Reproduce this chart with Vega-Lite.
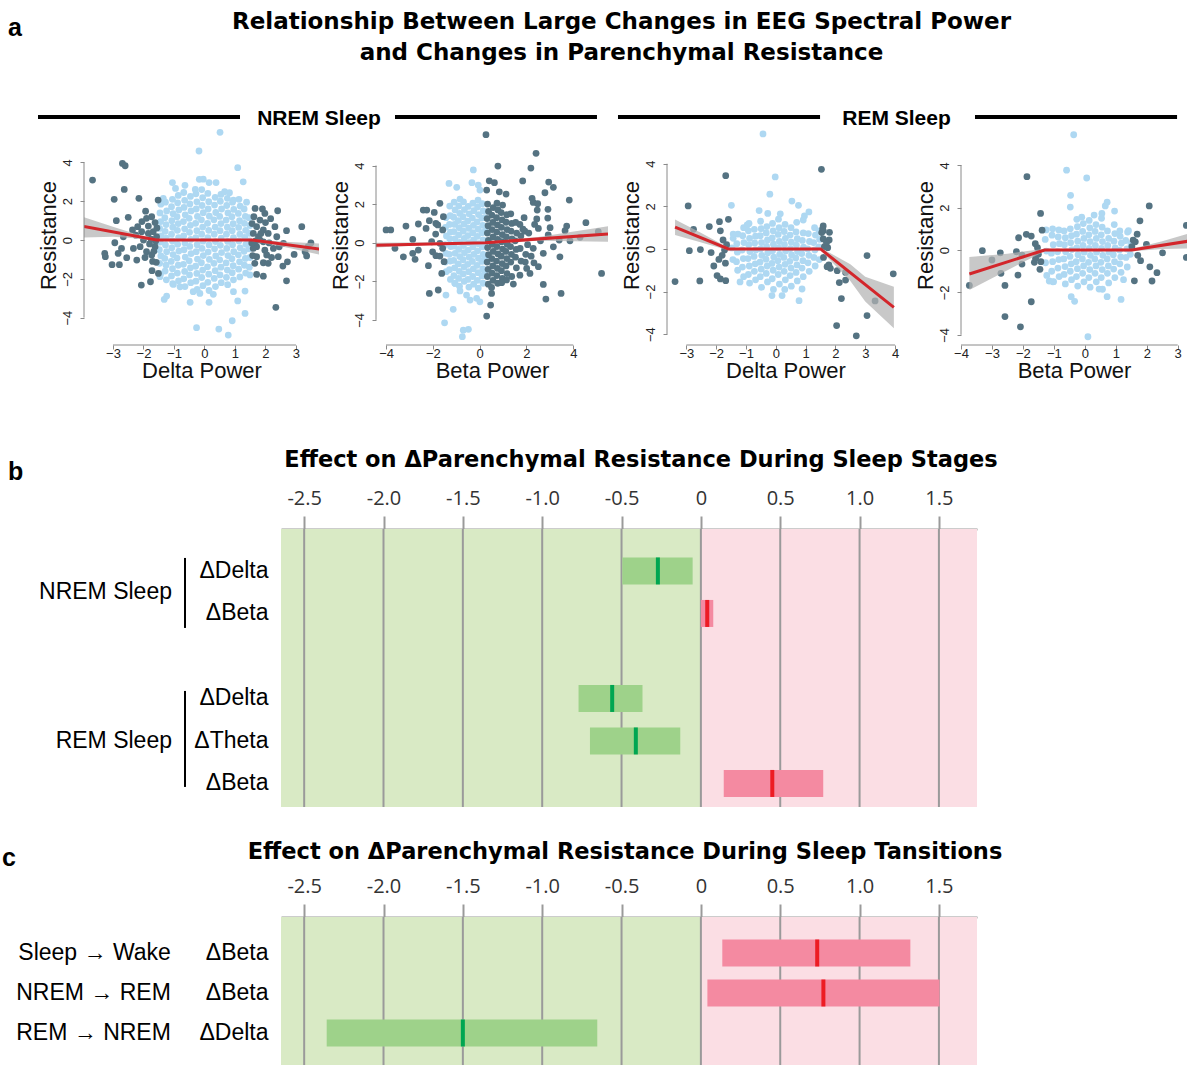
{
"$schema": "https://vega.github.io/schema/vega-lite/v6.json",
"background": "white",
"padding": {"left": 2, "top": 10, "right": 0, "bottom": 0},
"config": {
 "view": {"stroke": null},
 "axis": {"labelOverlap": false, "labelFlush": false, "grid": false},
 "axisBottom": {"domain": false, "tickSize": 4, "tickColor": "#8a8a8a", "labelFont": "Liberation Sans", "labelFontSize": 13, "labelColor": "#222222", "labelPadding": -1.5, "labelOverlap": false, "titleFont": "Liberation Sans", "titleFontSize": 22, "titleFontWeight": "normal", "titleColor": "#111111", "titlePadding": 0},
 "axisLeft": {"domain": false, "tickSize": 4, "tickColor": "#8a8a8a", "labelFont": "Liberation Sans", "labelFontSize": 13, "labelColor": "#222222", "labelAngle": -90, "labelAlign": "center", "labelBaseline": "bottom", "labelPadding": 5.5, "labelOverlap": false, "titleFont": "Liberation Sans", "titleFontSize": 22, "titleFontWeight": "normal", "titleColor": "#111111", "titlePadding": 1.5, "titleBaseline": "bottom"},
 "axisTop": {"domain": true, "domainColor": "#9a9a9a", "domainWidth": 2, "tickColor": "#9a9a9a", "tickWidth": 2, "tickSize": 13, "labelFont": "Open Sans", "labelFontSize": 20, "labelColor": "#333333", "labelOverlap": false, "titleFont": "DejaVu Sans", "titleFontSize": 22.5, "titleFontWeight": "bold", "titleColor": "black", "zindex": 1}
},
"title": {"text": ["Relationship Between Large Changes in EEG Spectral Power", "and Changes in Parenchymal Resistance"], "font": "DejaVu Sans", "fontSize": 23, "fontWeight": "bold", "color": "black", "anchor": "middle", "dx": 27, "offset": -72, "baseline": "bottom", "lineHeight": 31},
"datasets": {
 "p1_points": [
  {"x":-1.44,"y":-1.75},{"x":-1.47,"y":-1.2},{"x":-1.43,"y":-0.82},{"x":-1.48,"y":-0.5},{"x":-1.45,"y":-0.1},{"x":-1.42,"y":0.22},{"x":-1.47,"y":0.6},{"x":-1.44,"y":0.95},{"x":-1.46,"y":1.4},{"x":-1.43,"y":1.85},
  {"x":-1.25,"y":-2.05},{"x":-1.29,"y":-1.6},{"x":-1.26,"y":-1.3},{"x":-1.3,"y":-0.95},{"x":-1.24,"y":-0.6},{"x":-1.28,"y":-0.25},{"x":-1.25,"y":0.1},{"x":-1.29,"y":0.45},{"x":-1.26,"y":0.8},{"x":-1.3,"y":1.15},{"x":-1.24,"y":1.5},{"x":-1.28,"y":1.95},
  {"x":-1.04,"y":-2.25},{"x":-1.08,"y":-1.85},{"x":-1.05,"y":-1.48},{"x":-1.09,"y":-1.1},{"x":-1.03,"y":-0.75},{"x":-1.07,"y":-0.4},{"x":-1.05,"y":-0.05},{"x":-1.08,"y":0.3},{"x":-1.04,"y":0.66},{"x":-1.07,"y":1.0},{"x":-1.03,"y":1.36},{"x":-1.08,"y":1.72},{"x":-1.05,"y":2.1},
  {"x":-0.85,"y":-2.1},{"x":-0.89,"y":-1.7},{"x":-0.86,"y":-1.3},{"x":-0.9,"y":-0.93},{"x":-0.84,"y":-0.57},{"x":-0.88,"y":-0.22},{"x":-0.85,"y":0.13},{"x":-0.89,"y":0.5},{"x":-0.86,"y":0.85},{"x":-0.9,"y":1.2},{"x":-0.84,"y":1.55},{"x":-0.88,"y":1.92},{"x":-0.86,"y":2.3},
  {"x":-0.64,"y":-2.4},{"x":-0.68,"y":-2.0},{"x":-0.65,"y":-1.62},{"x":-0.69,"y":-1.25},{"x":-0.63,"y":-0.88},{"x":-0.67,"y":-0.5},{"x":-0.64,"y":-0.15},{"x":-0.68,"y":0.22},{"x":-0.65,"y":0.58},{"x":-0.69,"y":0.95},{"x":-0.63,"y":1.3},{"x":-0.67,"y":1.68},{"x":-0.65,"y":2.05},{"x":-0.68,"y":2.45},
  {"x":-0.45,"y":-2.2},{"x":-0.49,"y":-1.8},{"x":-0.46,"y":-1.43},{"x":-0.5,"y":-1.07},{"x":-0.44,"y":-0.7},{"x":-0.48,"y":-0.33},{"x":-0.45,"y":0.03},{"x":-0.49,"y":0.4},{"x":-0.46,"y":0.76},{"x":-0.5,"y":1.12},{"x":-0.44,"y":1.5},{"x":-0.48,"y":1.86},{"x":-0.46,"y":2.25},
  {"x":-0.24,"y":-2.55},{"x":-0.28,"y":-2.12},{"x":-0.25,"y":-1.72},{"x":-0.29,"y":-1.35},{"x":-0.23,"y":-0.98},{"x":-0.27,"y":-0.6},{"x":-0.24,"y":-0.24},{"x":-0.28,"y":0.12},{"x":-0.25,"y":0.48},{"x":-0.29,"y":0.86},{"x":-0.23,"y":1.22},{"x":-0.27,"y":1.6},{"x":-0.25,"y":1.97},{"x":-0.28,"y":2.38},
  {"x":-0.05,"y":-2.35},{"x":-0.09,"y":-1.93},{"x":-0.06,"y":-1.55},{"x":-0.1,"y":-1.17},{"x":-0.04,"y":-0.8},{"x":-0.08,"y":-0.43},{"x":-0.05,"y":-0.06},{"x":-0.09,"y":0.3},{"x":-0.06,"y":0.67},{"x":-0.1,"y":1.04},{"x":-0.04,"y":1.41},{"x":-0.08,"y":1.78},{"x":-0.06,"y":2.18},{"x":-0.09,"y":2.6},
  {"x":0.15,"y":-2.6},{"x":0.11,"y":-2.18},{"x":0.14,"y":-1.76},{"x":0.1,"y":-1.38},{"x":0.16,"y":-1.0},{"x":0.12,"y":-0.62},{"x":0.15,"y":-0.25},{"x":0.11,"y":0.12},{"x":0.14,"y":0.5},{"x":0.1,"y":0.86},{"x":0.16,"y":1.23},{"x":0.12,"y":1.6},{"x":0.14,"y":1.98},{"x":0.11,"y":2.4},
  {"x":0.36,"y":-2.4},{"x":0.32,"y":-1.98},{"x":0.35,"y":-1.58},{"x":0.31,"y":-1.2},{"x":0.37,"y":-0.82},{"x":0.33,"y":-0.45},{"x":0.36,"y":-0.08},{"x":0.32,"y":0.3},{"x":0.35,"y":0.67},{"x":0.31,"y":1.04},{"x":0.37,"y":1.42},{"x":0.33,"y":1.8},{"x":0.35,"y":2.2},
  {"x":0.55,"y":-2.2},{"x":0.51,"y":-1.8},{"x":0.54,"y":-1.4},{"x":0.5,"y":-1.02},{"x":0.56,"y":-0.65},{"x":0.52,"y":-0.27},{"x":0.55,"y":0.1},{"x":0.51,"y":0.48},{"x":0.54,"y":0.85},{"x":0.5,"y":1.22},{"x":0.56,"y":1.6},{"x":0.52,"y":2.0},{"x":0.54,"y":2.35},
  {"x":0.76,"y":-2.3},{"x":0.72,"y":-1.92},{"x":0.75,"y":-1.55},{"x":0.71,"y":-1.18},{"x":0.77,"y":-0.8},{"x":0.73,"y":-0.43},{"x":0.76,"y":-0.07},{"x":0.72,"y":0.3},{"x":0.75,"y":0.66},{"x":0.71,"y":1.03},{"x":0.77,"y":1.4},{"x":0.73,"y":1.78},{"x":0.75,"y":2.15},
  {"x":0.95,"y":-2.05},{"x":0.91,"y":-1.68},{"x":0.94,"y":-1.32},{"x":0.9,"y":-0.96},{"x":0.96,"y":-0.6},{"x":0.92,"y":-0.24},{"x":0.95,"y":0.12},{"x":0.91,"y":0.48},{"x":0.94,"y":0.84},{"x":0.9,"y":1.2},{"x":0.96,"y":1.58},{"x":0.92,"y":1.95},
  {"x":1.16,"y":-1.9},{"x":1.12,"y":-1.5},{"x":1.15,"y":-1.12},{"x":1.11,"y":-0.76},{"x":1.17,"y":-0.4},{"x":1.13,"y":-0.05},{"x":1.16,"y":0.3},{"x":1.12,"y":0.65},{"x":1.15,"y":1.0},{"x":1.11,"y":1.37},{"x":1.17,"y":1.75},{"x":1.13,"y":2.1},
  {"x":1.35,"y":-1.7},{"x":1.31,"y":-1.3},{"x":1.34,"y":-0.95},{"x":1.3,"y":-0.58},{"x":1.36,"y":-0.22},{"x":1.32,"y":0.14},{"x":1.35,"y":0.5},{"x":1.31,"y":0.86},{"x":1.34,"y":1.22},{"x":1.3,"y":1.6},
  {"x":1.47,"y":-1.4},{"x":1.49,"y":-0.9},{"x":1.46,"y":-0.45},{"x":1.48,"y":-0.05},{"x":1.47,"y":0.35},{"x":1.49,"y":0.75},{"x":1.46,"y":1.15},
  {"x":0.51,"y":5.55},{"x":-0.18,"y":4.59},{"x":1.09,"y":3.73},{"x":1.27,"y":3.0},{"x":-1.05,"y":2.96},{"x":-0.17,"y":3.13},{"x":-0.04,"y":3.14},{"x":0.15,"y":2.96},{"x":0.38,"y":2.96},{"x":0.66,"y":2.49},{"x":0.82,"y":2.44},{"x":-0.3,"y":2.61},{"x":-0.64,"y":2.82},{"x":-0.95,"y":2.66},{"x":-1.35,"y":2.15},{"x":0.95,"y":2.06},{"x":1.38,"y":1.95},
  {"x":-1.32,"y":-3.06},{"x":-1.24,"y":-2.89},{"x":-0.47,"y":-3.21},{"x":0.15,"y":-3.21},{"x":-0.26,"y":-4.52},{"x":0.47,"y":-4.59},{"x":0.78,"y":-4.9},{"x":0.91,"y":-4.16},{"x":1.33,"y":-3.78},{"x":1.09,"y":-3.14},{"x":1.33,"y":-2.63},{"x":0.95,"y":-2.66},{"x":-0.37,"y":-2.66},{"x":-0.15,"y":-2.75},{"x":0.29,"y":-2.8},{"x":-1.02,"y":-2.29},{"x":-0.8,"y":-2.41},{"x":-1.46,"y":-1.89},{"x":1.49,"y":-1.8},
  {"x":-3.67,"y":3.09},{"x":-2.69,"y":3.95},{"x":-2.6,"y":3.83},{"x":-2.63,"y":2.61},{"x":-2.96,"y":2.1},{"x":-2.15,"y":2.15},{"x":-2.89,"y":1.0},{"x":-2.5,"y":1.17},{"x":-1.93,"y":1.49},{"x":-1.52,"y":2.06},{"x":-3.03,"y":-1.27},{"x":-2.79,"y":-1.27},{"x":-3.27,"y":-0.69},{"x":-3.25,"y":-0.86},{"x":-2.07,"y":-2.32},{"x":-1.77,"y":-2.15},{"x":-1.72,"y":-1.58},{"x":-1.51,"y":-1.72},{"x":-2.22,"y":-1.03},{"x":-2.55,"y":-0.91},{"x":-2.83,"y":-0.69},{"x":-2.94,"y":-0.14},{"x":-2.36,"y":0.52},{"x":-2.19,"y":0.69},{"x":-1.9,"y":1.12},{"x":-1.73,"y":1.2},{"x":-1.84,"y":0.72},{"x":-1.68,"y":0.43},{"x":-2.0,"y":0.0},{"x":-2.11,"y":-0.34},{"x":-1.9,"y":-0.6},{"x":-1.73,"y":-0.77},{"x":-1.62,"y":-0.34},{"x":-2.33,"y":-0.43},{"x":-1.57,"y":0.17},{"x":-2.66,"y":0.17},{"x":-2.72,"y":-0.43},{"x":-2.06,"y":0.43},{"x":-1.84,"y":0.34},{"x":-1.62,"y":0.9},{"x":-1.7,"y":-1.1},{"x":-1.95,"y":-0.9},{"x":-2.05,"y":0.95},{"x":-1.6,"y":-0.05},{"x":-1.56,"y":0.62},{"x":-1.66,"y":-0.58},{"x":-1.8,"y":-0.2},{"x":-2.25,"y":0.25},{"x":-1.58,"y":-1.15},{"x":-1.75,"y":0.05},
  {"x":1.66,"y":1.63},{"x":1.98,"y":1.37},{"x":2.4,"y":1.51},{"x":2.17,"y":1.1},{"x":1.82,"y":1.03},{"x":1.71,"y":0.69},{"x":1.93,"y":0.52},{"x":2.09,"y":0.34},{"x":2.31,"y":0.69},{"x":2.69,"y":0.48},{"x":3.19,"y":0.69},{"x":2.37,"y":0.17},{"x":1.82,"y":0.0},{"x":1.71,"y":-0.34},{"x":1.98,"y":-0.52},{"x":2.26,"y":-0.43},{"x":2.59,"y":-0.17},{"x":2.94,"y":-0.74},{"x":2.42,"y":-0.86},{"x":1.71,"y":-0.86},{"x":2.04,"y":-0.77},{"x":1.93,"y":-1.17},{"x":2.09,"y":-1.2},{"x":2.57,"y":-1.34},{"x":2.72,"y":-1.12},{"x":1.71,"y":-1.77},{"x":1.93,"y":-1.86},{"x":2.69,"y":-2.1},{"x":2.34,"y":-3.47},{"x":3.3,"y":-0.6},{"x":3.4,"y":-0.34},{"x":1.6,"y":0.34},{"x":1.77,"y":0.17},{"x":1.93,"y":-0.09},{"x":1.6,"y":-0.43},{"x":1.85,"y":0.34},{"x":3.35,"y":-0.82},{"x":3.49,"y":-0.15},{"x":1.62,"y":1.2},{"x":1.65,"y":-1.2},{"x":2.0,"y":0.9},{"x":2.2,"y":-0.9},{"x":1.58,"y":-0.8},{"x":1.9,"y":1.6},{"x":2.45,"y":-0.35},{"x":1.56,"y":0.85},{"x":1.68,"y":-0.05},{"x":2.12,"y":-0.15},{"x":1.55,"y":-0.15}
 ],
 "p1_band": [{"x":-3.95,"lo":0.13,"hi":1.18},{"x":-3.0,"lo":0.17,"hi":0.68},{"x":-2.3,"lo":0.09,"hi":0.34},{"x":-1.57,"lo":-0.05,"hi":0.05},{"x":0,"lo":-0.05,"hi":0.05},{"x":1.55,"lo":-0.05,"hi":0.05},{"x":2.5,"lo":-0.32,"hi":-0.08},{"x":3.76,"lo":-0.75,"hi":-0.18}],
 "p1_fit": [{"x":-3.95,"y":0.7},{"x":-1.57,"y":0},{"x":1.55,"y":0},{"x":3.76,"y":-0.46}],
 "p2_points": [
  {"x":-1.43,"y":-1.5},{"x":-1.47,"y":-1.0},{"x":-1.44,"y":-0.55},{"x":-1.48,"y":-0.1},{"x":-1.42,"y":0.35},{"x":-1.46,"y":0.8},{"x":-1.44,"y":1.3},
  {"x":-1.25,"y":-1.9},{"x":-1.29,"y":-1.4},{"x":-1.26,"y":-0.95},{"x":-1.3,"y":-0.6},{"x":-1.24,"y":-0.2},{"x":-1.28,"y":0.2},{"x":-1.25,"y":0.55},{"x":-1.29,"y":0.95},{"x":-1.26,"y":1.4},{"x":-1.28,"y":1.9},
  {"x":-1.06,"y":-2.1},{"x":-1.1,"y":-1.7},{"x":-1.07,"y":-1.3},{"x":-1.11,"y":-0.92},{"x":-1.05,"y":-0.55},{"x":-1.09,"y":-0.18},{"x":-1.06,"y":0.2},{"x":-1.1,"y":0.58},{"x":-1.07,"y":0.95},{"x":-1.11,"y":1.32},{"x":-1.05,"y":1.7},{"x":-1.09,"y":2.1},
  {"x":-0.86,"y":-2.25},{"x":-0.9,"y":-1.85},{"x":-0.87,"y":-1.48},{"x":-0.91,"y":-1.1},{"x":-0.85,"y":-0.72},{"x":-0.89,"y":-0.35},{"x":-0.86,"y":0.02},{"x":-0.9,"y":0.4},{"x":-0.87,"y":0.78},{"x":-0.91,"y":1.15},{"x":-0.85,"y":1.52},{"x":-0.89,"y":1.9},
  {"x":-0.66,"y":-2.0},{"x":-0.7,"y":-1.62},{"x":-0.67,"y":-1.25},{"x":-0.71,"y":-0.88},{"x":-0.65,"y":-0.52},{"x":-0.69,"y":-0.15},{"x":-0.66,"y":0.22},{"x":-0.7,"y":0.6},{"x":-0.67,"y":0.97},{"x":-0.71,"y":1.35},{"x":-0.65,"y":1.72},{"x":-0.69,"y":2.12},
  {"x":-0.46,"y":-2.3},{"x":-0.5,"y":-1.9},{"x":-0.47,"y":-1.5},{"x":-0.51,"y":-1.12},{"x":-0.45,"y":-0.75},{"x":-0.49,"y":-0.38},{"x":-0.46,"y":0.0},{"x":-0.5,"y":0.37},{"x":-0.47,"y":0.75},{"x":-0.51,"y":1.12},{"x":-0.45,"y":1.5},{"x":-0.49,"y":1.88},
  {"x":-0.26,"y":-2.15},{"x":-0.3,"y":-1.75},{"x":-0.27,"y":-1.35},{"x":-0.31,"y":-0.97},{"x":-0.25,"y":-0.6},{"x":-0.29,"y":-0.22},{"x":-0.26,"y":0.15},{"x":-0.3,"y":0.52},{"x":-0.27,"y":0.9},{"x":-0.31,"y":1.28},{"x":-0.25,"y":1.66},{"x":-0.29,"y":2.05},
  {"x":-0.06,"y":-2.35},{"x":-0.1,"y":-1.95},{"x":-0.07,"y":-1.55},{"x":-0.11,"y":-1.17},{"x":-0.05,"y":-0.8},{"x":-0.09,"y":-0.42},{"x":-0.06,"y":-0.05},{"x":-0.1,"y":0.33},{"x":-0.07,"y":0.7},{"x":-0.11,"y":1.08},{"x":-0.05,"y":1.46},{"x":-0.09,"y":1.85},{"x":-0.07,"y":2.2},
  {"x":0.14,"y":-2.1},{"x":0.1,"y":-1.72},{"x":0.13,"y":-1.35},{"x":0.09,"y":-0.97},{"x":0.15,"y":-0.6},{"x":0.11,"y":-0.22},{"x":0.14,"y":0.15},{"x":0.1,"y":0.52},{"x":0.13,"y":0.9},{"x":0.09,"y":1.28},{"x":0.15,"y":1.65},{"x":0.11,"y":2.02},
  {"x":0.22,"y":-1.5},{"x":0.23,"y":-0.8},{"x":0.21,"y":-0.1},{"x":0.24,"y":0.6},{"x":0.22,"y":1.3},
  {"x":-0.27,"y":3.77},{"x":-1.31,"y":3.07},{"x":-0.98,"y":2.87},{"x":-0.33,"y":3.11},{"x":-0.06,"y":2.99},{"x":0.01,"y":2.73},{"x":-0.84,"y":2.26},{"x":-1.44,"y":-2.71},{"x":-1.13,"y":-3.45},{"x":-1.5,"y":-4.15},{"x":-0.7,"y":-4.53},{"x":-0.48,"y":-4.49},{"x":-0.74,"y":-4.87},{"x":-0.41,"y":-2.97},{"x":-0.13,"y":-2.88},{"x":0.01,"y":-3.06},{"x":-0.56,"y":-2.71},{"x":-0.84,"y":-2.5},{"x":-1.05,"y":-2.11},
  {"x":0.37,"y":-2.15},{"x":0.33,"y":-1.75},{"x":0.36,"y":-1.38},{"x":0.32,"y":-1.0},{"x":0.38,"y":-0.62},{"x":0.34,"y":-0.25},{"x":0.37,"y":0.12},{"x":0.33,"y":0.5},{"x":0.36,"y":0.88},{"x":0.32,"y":1.25},{"x":0.38,"y":1.62},{"x":0.34,"y":2.0},
  {"x":0.57,"y":-1.95},{"x":0.53,"y":-1.57},{"x":0.56,"y":-1.2},{"x":0.52,"y":-0.82},{"x":0.58,"y":-0.45},{"x":0.54,"y":-0.08},{"x":0.57,"y":0.3},{"x":0.53,"y":0.68},{"x":0.56,"y":1.05},{"x":0.52,"y":1.43},{"x":0.58,"y":1.82},
  {"x":0.77,"y":-2.1},{"x":0.73,"y":-1.7},{"x":0.76,"y":-1.33},{"x":0.72,"y":-0.95},{"x":0.78,"y":-0.58},{"x":0.74,"y":-0.2},{"x":0.77,"y":0.17},{"x":0.73,"y":0.55},{"x":0.76,"y":0.92},{"x":0.72,"y":1.3},{"x":0.78,"y":1.7},{"x":0.74,"y":2.05},
  {"x":0.97,"y":-1.85},{"x":0.93,"y":-1.45},{"x":0.96,"y":-1.08},{"x":0.92,"y":-0.7},{"x":0.98,"y":-0.33},{"x":0.94,"y":0.05},{"x":0.97,"y":0.42},{"x":0.93,"y":0.8},{"x":0.96,"y":1.18},{"x":0.92,"y":1.56},{"x":0.98,"y":1.95},
  {"x":1.17,"y":-1.6},{"x":1.13,"y":-1.2},{"x":1.16,"y":-0.82},{"x":1.12,"y":-0.45},{"x":1.18,"y":-0.08},{"x":1.14,"y":0.3},{"x":1.17,"y":0.68},{"x":1.13,"y":1.06},{"x":1.16,"y":1.45},
  {"x":1.37,"y":-1.75},{"x":1.33,"y":-1.0},{"x":1.36,"y":-0.6},{"x":1.32,"y":-0.2},{"x":1.38,"y":0.2},{"x":1.34,"y":0.6},{"x":1.37,"y":1.0},{"x":1.33,"y":1.5},
  {"x":1.57,"y":-1.3},{"x":1.53,"y":-0.75},{"x":1.56,"y":-0.35},{"x":1.52,"y":0.1},{"x":1.58,"y":0.5},{"x":1.54,"y":1.05},
  {"x":1.77,"y":-0.95},{"x":1.73,"y":-0.3},{"x":1.76,"y":0.35},{"x":1.72,"y":0.95},{"x":1.97,"y":-0.6},{"x":1.93,"y":0.6},
  {"x":0.27,"y":5.6},{"x":2.41,"y":4.63},{"x":2.19,"y":3.87},{"x":0.78,"y":3.97},{"x":0.41,"y":3.21},{"x":0.63,"y":3.11},{"x":0.3,"y":2.73},{"x":0.84,"y":2.64},{"x":1.13,"y":2.52},{"x":1.84,"y":3.2},{"x":2.95,"y":3.14},{"x":3.15,"y":2.87},{"x":2.79,"y":2.59},{"x":2.24,"y":2.3},{"x":2.29,"y":2.09},{"x":2.48,"y":2.02},{"x":3.83,"y":2.21},{"x":2.92,"y":1.73},{"x":2.46,"y":1.69},{"x":2.91,"y":1.28},{"x":2.44,"y":1.23},{"x":3.72,"y":0.86},{"x":3.65,"y":0.62},{"x":4.54,"y":1.04},{"x":3.01,"y":0.78},{"x":2.51,"y":0.74},{"x":2.93,"y":0.4},{"x":4.29,"y":0.28},{"x":3.4,"y":0.14},{"x":3.86,"y":0.1},{"x":5.07,"y":0.57},{"x":3.15,"y":-0.21},{"x":3.43,"y":-0.73},{"x":2.72,"y":-0.55},{"x":2.29,"y":-0.29},{"x":5.21,"y":-1.59},{"x":2.32,"y":-1.04},{"x":2.51,"y":-1.24},{"x":2.01,"y":-1.33},{"x":2.15,"y":-1.59},{"x":1.72,"y":-1.68},{"x":1.15,"y":-1.93},{"x":0.94,"y":-2.07},{"x":0.51,"y":-2.32},{"x":1.44,"y":-2.14},{"x":2.72,"y":-2.16},{"x":0.47,"y":-3.23},{"x":0.3,"y":-3.8},{"x":2.83,"y":-2.92},{"x":3.48,"y":-2.63},{"x":0.51,"y":-2.63},{"x":2.1,"y":0.5},{"x":2.2,"y":-0.7},{"x":1.9,"y":1.3},{"x":2.6,"y":0.1},{"x":2.05,"y":-0.1},{"x":1.85,"y":0.7},{"x":1.95,"y":-1.0},{"x":2.35,"y":0.95},
  {"x":-4.0,"y":0.66},{"x":-3.8,"y":0.66},{"x":-3.62,"y":-0.29},{"x":-3.15,"y":0.86},{"x":-3.26,"y":-0.73},{"x":-2.86,"y":0.17},{"x":-2.62,"y":0.97},{"x":-2.86,"y":-0.55},{"x":-2.62,"y":-0.38},{"x":-2.76,"y":-0.86},{"x":-2.41,"y":1.69},{"x":-2.26,"y":1.69},{"x":-2.29,"y":0.74},{"x":-2.15,"y":1.14},{"x":-2.05,"y":0.05},{"x":-2.19,"y":-1.19},{"x":-2.15,"y":-2.63},{"x":-2.01,"y":-0.47},{"x":-1.87,"y":1.0},{"x":-1.79,"y":0.92},{"x":-1.94,"y":1.57},{"x":-1.7,"y":2.04},{"x":-1.88,"y":0.45},{"x":-1.7,"y":-0.03},{"x":-1.87,"y":-0.67},{"x":-1.7,"y":-0.69},{"x":-1.77,"y":-2.45},{"x":-1.62,"y":-1.59},{"x":-1.55,"y":1.35},{"x":-1.58,"y":0.66},{"x":-1.52,"y":-0.98},{"x":-1.58,"y":-0.29}
 ],
 "p2_band": [{"x":-4.43,"lo":-0.25,"hi":0.0},{"x":-2,"lo":-0.1,"hi":0.03},{"x":0.25,"lo":-0.04,"hi":0.04},{"x":2.5,"lo":0.1,"hi":0.3},{"x":5.485,"lo":0.05,"hi":0.85}],
 "p2_fit": [{"x":-4.43,"y":-0.13},{"x":0.25,"y":0},{"x":5.485,"y":0.45}],
 "p3_points": [
  {"x":-1.44,"y":-0.5},{"x":-1.47,"y":0.05},{"x":-1.43,"y":0.5},
  {"x":-1.28,"y":-1.0},{"x":-1.32,"y":-0.6},{"x":-1.29,"y":-0.15},{"x":-1.31,"y":0.25},{"x":-1.27,"y":0.7},
  {"x":-1.08,"y":-1.3},{"x":-1.12,"y":-0.85},{"x":-1.09,"y":-0.45},{"x":-1.13,"y":-0.05},{"x":-1.07,"y":0.3},{"x":-1.11,"y":0.62},{"x":-1.08,"y":1.0},
  {"x":-0.88,"y":-1.6},{"x":-0.92,"y":-1.2},{"x":-0.89,"y":-0.8},{"x":-0.93,"y":-0.45},{"x":-0.87,"y":-0.12},{"x":-0.91,"y":0.2},{"x":-0.88,"y":0.5},{"x":-0.92,"y":0.85},{"x":-0.9,"y":1.2},
  {"x":-0.68,"y":-1.45},{"x":-0.72,"y":-1.05},{"x":-0.69,"y":-0.7},{"x":-0.73,"y":-0.35},{"x":-0.67,"y":-0.05},{"x":-0.71,"y":0.28},{"x":-0.68,"y":0.6},{"x":-0.72,"y":0.92},
  {"x":-0.48,"y":-1.8},{"x":-0.52,"y":-1.3},{"x":-0.49,"y":-0.95},{"x":-0.53,"y":-0.62},{"x":-0.47,"y":-0.3},{"x":-0.51,"y":0.0},{"x":-0.48,"y":0.3},{"x":-0.52,"y":0.62},{"x":-0.49,"y":0.95},{"x":-0.51,"y":1.3},
  {"x":-0.28,"y":-1.55},{"x":-0.32,"y":-1.15},{"x":-0.29,"y":-0.8},{"x":-0.33,"y":-0.48},{"x":-0.27,"y":-0.18},{"x":-0.31,"y":0.12},{"x":-0.28,"y":0.42},{"x":-0.32,"y":0.75},{"x":-0.3,"y":1.05},
  {"x":-0.08,"y":-1.9},{"x":-0.12,"y":-1.4},{"x":-0.09,"y":-1.0},{"x":-0.13,"y":-0.68},{"x":-0.07,"y":-0.38},{"x":-0.11,"y":-0.08},{"x":-0.08,"y":0.22},{"x":-0.12,"y":0.52},{"x":-0.09,"y":0.85},{"x":-0.11,"y":1.2},
  {"x":0.12,"y":-1.65},{"x":0.08,"y":-1.2},{"x":0.11,"y":-0.85},{"x":0.07,"y":-0.55},{"x":0.13,"y":-0.25},{"x":0.09,"y":0.05},{"x":0.12,"y":0.35},{"x":0.08,"y":0.68},{"x":0.11,"y":1.0},{"x":0.09,"y":1.4},
  {"x":0.32,"y":-1.45},{"x":0.28,"y":-1.05},{"x":0.31,"y":-0.72},{"x":0.27,"y":-0.4},{"x":0.33,"y":-0.1},{"x":0.29,"y":0.2},{"x":0.32,"y":0.5},{"x":0.28,"y":0.82},{"x":0.31,"y":1.15},
  {"x":0.52,"y":-1.75},{"x":0.48,"y":-1.25},{"x":0.51,"y":-0.9},{"x":0.47,"y":-0.58},{"x":0.53,"y":-0.28},{"x":0.49,"y":0.02},{"x":0.52,"y":0.32},{"x":0.48,"y":0.65},{"x":0.51,"y":1.0},
  {"x":0.72,"y":-1.5},{"x":0.68,"y":-1.1},{"x":0.71,"y":-0.75},{"x":0.67,"y":-0.42},{"x":0.73,"y":-0.12},{"x":0.69,"y":0.18},{"x":0.72,"y":0.48},{"x":0.68,"y":0.8},{"x":0.7,"y":1.25},
  {"x":0.92,"y":-1.3},{"x":0.88,"y":-0.9},{"x":0.91,"y":-0.55},{"x":0.87,"y":-0.22},{"x":0.93,"y":0.08},{"x":0.89,"y":0.4},{"x":0.92,"y":0.75},
  {"x":1.12,"y":-1.05},{"x":1.08,"y":-0.65},{"x":1.11,"y":-0.3},{"x":1.07,"y":0.0},{"x":1.13,"y":0.35},{"x":1.09,"y":0.72},
  {"x":1.32,"y":-0.8},{"x":1.28,"y":-0.4},{"x":1.31,"y":-0.05},{"x":1.27,"y":0.3},{"x":1.33,"y":0.65},
  {"x":1.46,"y":-0.5},{"x":1.44,"y":0.1},{"x":1.47,"y":0.45},
  {"x":-0.43,"y":5.4},{"x":-0.02,"y":3.38},{"x":-0.2,"y":2.57},{"x":0.54,"y":2.25},{"x":0.76,"y":2.05},{"x":-1.49,"y":2.05},{"x":-0.56,"y":1.8},{"x":-0.27,"y":1.67},{"x":0.96,"y":1.55},{"x":1.11,"y":1.74},{"x":0.92,"y":1.36},{"x":0.15,"y":1.65},{"x":-0.13,"y":-2.19},{"x":0.21,"y":-2.19},{"x":0.78,"y":-2.43},{"x":0.88,"y":-1.88},{"x":-0.96,"y":1.13},{"x":-1.43,"y":0.7},{"x":1.3,"y":1.0},{"x":1.45,"y":0.85},{"x":-1.2,"y":-1.55},{"x":0.3,"y":-1.9},
  {"x":-2.94,"y":2.02},{"x":-1.68,"y":3.44},{"x":1.53,"y":3.74},{"x":-2.76,"y":0.92},{"x":-2.23,"y":1.05},{"x":-1.89,"y":1.28},{"x":-1.59,"y":1.39},{"x":-1.86,"y":0.85},{"x":-2.9,"y":-0.08},{"x":-2.53,"y":-0.03},{"x":-2.17,"y":-0.17},{"x":-1.77,"y":0.42},{"x":-1.72,"y":-0.05},{"x":-1.69,"y":-0.67},{"x":-2.08,"y":-0.8},{"x":-1.91,"y":-0.49},{"x":-1.97,"y":-1.25},{"x":-1.86,"y":-1.41},{"x":-1.68,"y":-1.49},{"x":-2.55,"y":-1.5},{"x":-3.38,"y":-1.53},{"x":1.59,"y":1.08},{"x":1.59,"y":0.86},{"x":1.54,"y":0.77},{"x":1.8,"y":0.78},{"x":1.79,"y":0.42},{"x":1.63,"y":0.11},{"x":1.74,"y":0.06},{"x":1.78,"y":-0.75},{"x":1.83,"y":-0.91},{"x":1.72,"y":-0.83},{"x":2.06,"y":-1.02},{"x":2.34,"y":-1.1},{"x":2.13,"y":-1.58},{"x":2.34,"y":-1.46},{"x":2.2,"y":-2.33},{"x":3.06,"y":-0.31},{"x":3.94,"y":-1.17},{"x":3.33,"y":-2.44},{"x":3.06,"y":-3.13},{"x":2.04,"y":-3.6},{"x":2.7,"y":-4.08},{"x":1.59,"y":0.47},{"x":1.57,"y":0.94},{"x":-1.65,"y":0.2},{"x":-1.8,"y":-0.3},{"x":1.6,"y":-0.4},{"x":1.7,"y":0.3}
 ],
 "p3_band": [{"x":-3.38,"lo":0.66,"hi":1.38},{"x":-2.5,"lo":0.3,"hi":0.75},{"x":-1.59,"lo":-0.06,"hi":0.06},{"x":0,"lo":-0.05,"hi":0.05},{"x":1.5,"lo":-0.06,"hi":0.06},{"x":2.5,"lo":-1.5,"hi":-0.72},{"x":3.0,"lo":-2.47,"hi":-1.3},{"x":3.96,"lo":-3.72,"hi":-1.77}],
 "p3_fit": [{"x":-3.38,"y":1.02},{"x":-1.59,"y":0},{"x":1.5,"y":0},{"x":3.96,"y":-2.74}],
 "p4_points": [
  {"x":-1.23,"y":-1.2},{"x":-1.27,"y":-0.6},{"x":-1.24,"y":-0.05},{"x":-1.28,"y":0.5},{"x":-1.25,"y":0.95},
  {"x":-1.03,"y":-1.5},{"x":-1.07,"y":-1.0},{"x":-1.04,"y":-0.55},{"x":-1.08,"y":-0.15},{"x":-1.02,"y":0.25},{"x":-1.06,"y":0.7},{"x":-1.04,"y":1.0},
  {"x":-0.83,"y":-1.25},{"x":-0.87,"y":-0.85},{"x":-0.84,"y":-0.45},{"x":-0.88,"y":-0.08},{"x":-0.82,"y":0.3},{"x":-0.86,"y":0.62},{"x":-0.84,"y":0.95},
  {"x":-0.63,"y":-1.6},{"x":-0.67,"y":-1.15},{"x":-0.64,"y":-0.78},{"x":-0.68,"y":-0.42},{"x":-0.62,"y":-0.08},{"x":-0.66,"y":0.25},{"x":-0.63,"y":0.58},{"x":-0.67,"y":0.9},
  {"x":-0.43,"y":-1.4},{"x":-0.47,"y":-1.0},{"x":-0.44,"y":-0.65},{"x":-0.48,"y":-0.3},{"x":-0.42,"y":0.02},{"x":-0.46,"y":0.35},{"x":-0.43,"y":0.68},{"x":-0.47,"y":1.0},
  {"x":-0.23,"y":-1.7},{"x":-0.27,"y":-1.25},{"x":-0.24,"y":-0.88},{"x":-0.28,"y":-0.55},{"x":-0.22,"y":-0.22},{"x":-0.26,"y":0.1},{"x":-0.23,"y":0.42},{"x":-0.27,"y":0.75},{"x":-0.24,"y":1.1},{"x":-0.26,"y":1.45},
  {"x":-0.03,"y":-1.5},{"x":-0.07,"y":-1.1},{"x":-0.04,"y":-0.75},{"x":-0.08,"y":-0.42},{"x":-0.02,"y":-0.1},{"x":-0.06,"y":0.22},{"x":-0.03,"y":0.55},{"x":-0.07,"y":0.88},{"x":-0.05,"y":1.25},
  {"x":0.17,"y":-1.75},{"x":0.13,"y":-1.3},{"x":0.16,"y":-0.92},{"x":0.12,"y":-0.58},{"x":0.18,"y":-0.25},{"x":0.14,"y":0.08},{"x":0.17,"y":0.4},{"x":0.13,"y":0.72},{"x":0.16,"y":1.05},{"x":0.14,"y":1.4},
  {"x":0.37,"y":-1.5},{"x":0.33,"y":-1.1},{"x":0.36,"y":-0.75},{"x":0.32,"y":-0.42},{"x":0.38,"y":-0.1},{"x":0.34,"y":0.22},{"x":0.37,"y":0.55},{"x":0.33,"y":0.88},{"x":0.36,"y":1.2},
  {"x":0.57,"y":-1.85},{"x":0.53,"y":-1.3},{"x":0.56,"y":-0.92},{"x":0.52,"y":-0.58},{"x":0.58,"y":-0.25},{"x":0.54,"y":0.08},{"x":0.57,"y":0.4},{"x":0.53,"y":0.72},{"x":0.56,"y":1.08},{"x":0.54,"y":1.5},
  {"x":0.77,"y":-1.55},{"x":0.73,"y":-1.1},{"x":0.76,"y":-0.75},{"x":0.72,"y":-0.42},{"x":0.78,"y":-0.1},{"x":0.74,"y":0.22},{"x":0.77,"y":0.55},{"x":0.73,"y":0.9},
  {"x":0.97,"y":-1.3},{"x":0.93,"y":-0.9},{"x":0.96,"y":-0.55},{"x":0.92,"y":-0.22},{"x":0.98,"y":0.1},{"x":0.94,"y":0.42},{"x":0.97,"y":0.78},{"x":0.95,"y":1.2},
  {"x":1.17,"y":-1.05},{"x":1.13,"y":-0.65},{"x":1.16,"y":-0.32},{"x":1.12,"y":0.0},{"x":1.18,"y":0.32},{"x":1.14,"y":0.65},
  {"x":1.37,"y":-0.8},{"x":1.33,"y":-0.35},{"x":1.36,"y":0.05},{"x":1.32,"y":0.45},{"x":1.38,"y":0.85},
  {"x":1.47,"y":-0.2},{"x":1.49,"y":0.3},
  {"x":-0.36,"y":5.44},{"x":-0.59,"y":3.77},{"x":0.06,"y":3.4},{"x":-0.46,"y":2.58},{"x":-0.47,"y":2.03},{"x":0.72,"y":2.26},{"x":0.66,"y":2.08},{"x":0.96,"y":1.84},{"x":0.55,"y":1.73},{"x":1.13,"y":0.9},{"x":1.41,"y":0.91},{"x":-0.44,"y":-2.2},{"x":-0.33,"y":-2.42},{"x":0.72,"y":-2.2},{"x":1.17,"y":-2.33},{"x":0.1,"y":-4.09},{"x":0.46,"y":-1.84},{"x":-1.01,"y":-1.49},{"x":-1.15,"y":-1.46},{"x":0.3,"y":1.65},{"x":-0.1,"y":1.55},{"x":1.25,"y":-1.4},
  {"x":-1.87,"y":3.46},{"x":-1.43,"y":1.73},{"x":2.08,"y":2.08},{"x":1.78,"y":1.38},{"x":3.28,"y":1.16},{"x":-3.31,"y":-0.03},{"x":-2.73,"y":-0.13},{"x":-3.0,"y":-0.47},{"x":-2.71,"y":-1.1},{"x":-2.58,"y":-1.67},{"x":-3.73,"y":-1.67},{"x":-2.58,"y":-3.14},{"x":-2.08,"y":-3.62},{"x":-2.16,"y":-1.18},{"x":-2.14,"y":0.58},{"x":-1.89,"y":0.74},{"x":-1.73,"y":0.66},{"x":-2.03,"y":-0.24},{"x":-2.21,"y":-0.08},{"x":-2.03,"y":-0.66},{"x":-1.73,"y":-2.44},{"x":-1.63,"y":-0.58},{"x":-1.59,"y":-0.39},{"x":-1.53,"y":0.11},{"x":-1.38,"y":0.94},{"x":-1.42,"y":-0.55},{"x":-1.45,"y":-0.91},{"x":1.69,"y":0.75},{"x":1.63,"y":0.39},{"x":1.71,"y":-0.25},{"x":1.6,"y":-1.45},{"x":1.99,"y":0.27},{"x":2.1,"y":-0.79},{"x":2.17,"y":-1.46},{"x":2.33,"y":-1.07},{"x":2.51,"y":-0.13},{"x":3.28,"y":-0.35},{"x":1.56,"y":0.47},{"x":1.52,"y":0.16},{"x":-1.6,"y":0.3},{"x":1.8,"y":-0.5},{"x":-1.5,"y":-0.2}
 ],
 "p4_band": [{"x":-3.73,"lo":-1.89,"hi":-0.33},{"x":-2.5,"lo":-0.95,"hi":-0.17},{"x":-1.3,"lo":-0.06,"hi":0.06},{"x":0,"lo":-0.05,"hi":0.05},{"x":1.52,"lo":-0.06,"hi":0.06},{"x":2.5,"lo":0.05,"hi":0.42},{"x":3.35,"lo":0.08,"hi":0.78}],
 "p4_fit": [{"x":-3.73,"y":-1.13},{"x":-1.3,"y":0},{"x":1.52,"y":0},{"x":3.35,"y":0.42}],
 "grid_ticks": [{"v":-2.5},{"v":-2.0},{"v":-1.5},{"v":-1.0},{"v":-0.5},{"v":0},{"v":0.5},{"v":1.0},{"v":1.5}],
 "stages": [
  {"stage":"NREM Sleep","measure":"ΔDelta","key":"NREM Sleep|ΔDelta","lo":-0.495,"hi":-0.052,"est":-0.271,"direction":"decrease"},
  {"stage":"NREM Sleep","measure":"ΔBeta","key":"NREM Sleep|ΔBeta","lo":0.0,"hi":0.078,"est":0.04,"direction":"increase"},
  {"stage":"REM Sleep","measure":"ΔDelta","key":"REM Sleep|ΔDelta","lo":-0.771,"hi":-0.368,"est":-0.559,"direction":"decrease"},
  {"stage":"REM Sleep","measure":"ΔTheta","key":"REM Sleep|ΔTheta","lo":-0.699,"hi":-0.13,"est":-0.41,"direction":"decrease"},
  {"stage":"REM Sleep","measure":"ΔBeta","key":"REM Sleep|ΔBeta","lo":0.144,"hi":0.771,"est":0.45,"direction":"increase"}
 ],
 "transitions": [
  {"transition":"Sleep → Wake","measure":"ΔBeta","key":"Sleep → Wake|ΔBeta","lo":0.135,"hi":1.32,"est":0.733,"direction":"increase"},
  {"transition":"NREM → REM","measure":"ΔBeta","key":"NREM → REM|ΔBeta","lo":0.041,"hi":1.504,"est":0.772,"direction":"increase"},
  {"transition":"REM → NREM","measure":"ΔDelta","key":"REM → NREM|ΔDelta","lo":-2.358,"hi":-0.653,"est":-1.5,"direction":"decrease"}
 ]
},
"spacing": 66,
"vconcat": [
 {
  "title": {"text": "a", "anchor": "start", "frame": "group", "dx": -76, "offset": 55, "baseline": "middle", "font": "Liberation Sans", "fontSize": 25, "fontWeight": "bold", "color": "black"},
  "spacing": 7,
  "hconcat": [
   {
    "title": {"text": "NREM Sleep", "anchor": "middle", "dx": -3, "offset": -25, "baseline": "middle", "font": "Liberation Sans", "fontSize": 21, "fontWeight": "bold", "color": "black"},
    "spacing": 10,
    "hconcat": [
     {
      "width": 235, "height": 220,
      "layer": [
       {"data": {"name": "p1_points"}, "mark": {"type": "circle", "size": 46, "opacity": 1, "clip": true},
        "encoding": {
         "x": {"field": "x", "type": "quantitative", "title": "Delta Power", "scale": {"domain": [-3.95, 3.755], "nice": false, "zero": false}, "axis": {"values": [-3, -2, -1, 0, 1, 2, 3], "tickCount": 30, "format": "d", "labelOverlap": false}},
         "y": {"field": "y", "type": "quantitative", "title": "Resistance", "scale": {"domain": [-5.41, 5.93], "nice": false, "zero": false}, "axis": {"values": [-4, -2, 0, 2, 4], "tickCount": 30, "format": "d", "labelOverlap": false}},
         "color": {"condition": {"test": "datum.x < -1.5 || datum.x > 1.5", "value": "#557382"}, "value": "#aed8f2"}
        }},
       {"data": {"name": "p1_band"}, "mark": {"type": "area", "color": "#b3b3b3", "opacity": 0.72, "clip": true},
        "encoding": {"x": {"field": "x", "type": "quantitative", "title": "Delta Power"}, "y": {"field": "lo", "type": "quantitative", "title": "Resistance"}, "y2": {"field": "hi"}}},
       {"data": {"name": "p1_fit"}, "mark": {"type": "line", "color": "#d3262b", "strokeWidth": 3, "clip": true},
        "encoding": {"x": {"field": "x", "type": "quantitative", "title": "Delta Power"}, "y": {"field": "y", "type": "quantitative", "title": "Resistance"}}},
       {"data": {"values": [{}]}, "mark": {"type": "rule", "color": "#8a8a8a"}, "encoding": {"x": {"datum": -3}, "x2": {"datum": 3}, "y": {"datum": -5.41}}},
       {"data": {"values": [{}]}, "mark": {"type": "rule", "color": "#8a8a8a"}, "encoding": {"x": {"datum": -3.95}, "y": {"datum": -4}, "y2": {"datum": 4}}},
       {"data": {"values": [{}]}, "mark": {"type": "rule", "color": "black", "strokeWidth": 4}, "encoding": {"x": {"datum": -5.458}, "x2": {"datum": 1.165}, "y": {"datum": 6.342}}}
      ]
     },
     {
      "width": 232, "height": 220,
      "layer": [
       {"data": {"name": "p2_points"}, "mark": {"type": "circle", "size": 46, "opacity": 1, "clip": true},
        "encoding": {
         "x": {"field": "x", "type": "quantitative", "title": "Beta Power", "scale": {"domain": [-4.43, 5.485], "nice": false, "zero": false}, "axis": {"values": [-4, -2, 0, 2, 4], "tickCount": 30, "format": "d", "labelOverlap": false}},
         "y": {"field": "y", "type": "quantitative", "title": "Resistance", "scale": {"domain": [-5.3, 6.1], "nice": false, "zero": false}, "axis": {"values": [-4, -2, 0, 2, 4], "tickCount": 30, "format": "d", "labelOverlap": false}},
         "color": {"condition": {"test": "datum.x < -1.5 || datum.x > 0.25", "value": "#557382"}, "value": "#aed8f2"}
        }},
       {"data": {"name": "p2_band"}, "mark": {"type": "area", "color": "#b3b3b3", "opacity": 0.72, "clip": true},
        "encoding": {"x": {"field": "x", "type": "quantitative", "title": "Beta Power"}, "y": {"field": "lo", "type": "quantitative", "title": "Resistance"}, "y2": {"field": "hi"}}},
       {"data": {"name": "p2_fit"}, "mark": {"type": "line", "color": "#d3262b", "strokeWidth": 3, "clip": true},
        "encoding": {"x": {"field": "x", "type": "quantitative", "title": "Beta Power"}, "y": {"field": "y", "type": "quantitative", "title": "Resistance"}}},
       {"data": {"values": [{}]}, "mark": {"type": "rule", "color": "#8a8a8a"}, "encoding": {"x": {"datum": -4}, "x2": {"datum": 4}, "y": {"datum": -5.3}}},
       {"data": {"values": [{}]}, "mark": {"type": "rule", "color": "#8a8a8a"}, "encoding": {"x": {"datum": -4.43}, "y": {"datum": -4}, "y2": {"datum": 4}}},
       {"data": {"values": [{}]}, "mark": {"type": "rule", "color": "black", "strokeWidth": 4}, "encoding": {"x": {"datum": -3.618}, "x2": {"datum": 5.014}, "y": {"datum": 6.515}}}
      ]
     }
    ]
   },
   {
    "title": {"text": "REM Sleep", "anchor": "middle", "dx": -5, "offset": -25, "baseline": "middle", "font": "Liberation Sans", "fontSize": 21, "fontWeight": "bold", "color": "black"},
    "spacing": 10,
    "hconcat": [
     {
      "width": 237, "height": 220,
      "layer": [
       {"data": {"name": "p3_points"}, "mark": {"type": "circle", "size": 46, "opacity": 1, "clip": true},
        "encoding": {
         "x": {"field": "x", "type": "quantitative", "title": "Delta Power", "scale": {"domain": [-3.65, 4.3], "nice": false, "zero": false}, "axis": {"values": [-3, -2, -1, 0, 1, 2, 3, 4], "tickCount": 30, "format": "d", "labelOverlap": false}},
         "y": {"field": "y", "type": "quantitative", "title": "Resistance", "scale": {"domain": [-4.51, 5.82], "nice": false, "zero": false}, "axis": {"values": [-4, -2, 0, 2, 4], "tickCount": 30, "format": "d", "labelOverlap": false}},
         "color": {"condition": {"test": "datum.x < -1.55 || datum.x > 1.52", "value": "#557382"}, "value": "#aed8f2"}
        }},
       {"data": {"name": "p3_band"}, "mark": {"type": "area", "color": "#b3b3b3", "opacity": 0.72, "clip": true},
        "encoding": {"x": {"field": "x", "type": "quantitative", "title": "Delta Power"}, "y": {"field": "lo", "type": "quantitative", "title": "Resistance"}, "y2": {"field": "hi"}}},
       {"data": {"name": "p3_fit"}, "mark": {"type": "line", "color": "#d3262b", "strokeWidth": 3, "clip": true},
        "encoding": {"x": {"field": "x", "type": "quantitative", "title": "Delta Power"}, "y": {"field": "y", "type": "quantitative", "title": "Resistance"}}},
       {"data": {"values": [{}]}, "mark": {"type": "rule", "color": "#8a8a8a"}, "encoding": {"x": {"datum": -3}, "x2": {"datum": 4}, "y": {"datum": -4.51}}},
       {"data": {"values": [{}]}, "mark": {"type": "rule", "color": "#8a8a8a"}, "encoding": {"x": {"datum": -3.65}, "y": {"datum": -4}, "y2": {"datum": 4}}},
       {"data": {"values": [{}]}, "mark": {"type": "rule", "color": "black", "strokeWidth": 4}, "encoding": {"x": {"datum": -5.294}, "x2": {"datum": 1.484}, "y": {"datum": 6.196}}}
      ]
     },
     {
      "width": 226, "height": 220,
      "layer": [
       {"data": {"name": "p4_points"}, "mark": {"type": "circle", "size": 46, "opacity": 1, "clip": true},
        "encoding": {
         "x": {"field": "x", "type": "quantitative", "title": "Beta Power", "scale": {"domain": [-4.0, 3.3], "nice": false, "zero": false}, "axis": {"values": [-4, -3, -2, -1, 0, 1, 2, 3], "tickCount": 30, "format": "d", "labelOverlap": false}},
         "y": {"field": "y", "type": "quantitative", "title": "Resistance", "scale": {"domain": [-4.48, 5.9], "nice": false, "zero": false}, "axis": {"values": [-4, -2, 0, 2, 4], "tickCount": 30, "format": "d", "labelOverlap": false}},
         "color": {"condition": {"test": "datum.x < -1.35 || datum.x > 1.5", "value": "#557382"}, "value": "#aed8f2"}
        }},
       {"data": {"name": "p4_band"}, "mark": {"type": "area", "color": "#b3b3b3", "opacity": 0.72, "clip": true},
        "encoding": {"x": {"field": "x", "type": "quantitative", "title": "Beta Power"}, "y": {"field": "lo", "type": "quantitative", "title": "Resistance"}, "y2": {"field": "hi"}}},
       {"data": {"name": "p4_fit"}, "mark": {"type": "line", "color": "#d3262b", "strokeWidth": 3, "clip": true},
        "encoding": {"x": {"field": "x", "type": "quantitative", "title": "Beta Power"}, "y": {"field": "y", "type": "quantitative", "title": "Resistance"}}},
       {"data": {"values": [{}]}, "mark": {"type": "rule", "color": "#8a8a8a"}, "encoding": {"x": {"datum": -4}, "x2": {"datum": 3}, "y": {"datum": -4.48}}},
       {"data": {"values": [{}]}, "mark": {"type": "rule", "color": "#8a8a8a"}, "encoding": {"x": {"datum": -4}, "y": {"datum": -4}, "y2": {"datum": 4}}},
       {"data": {"values": [{}]}, "mark": {"type": "rule", "color": "black", "strokeWidth": 4}, "encoding": {"x": {"datum": -3.548}, "x2": {"datum": 2.979}, "y": {"datum": 6.277}}}
      ]
     }
    ]
   }
  ]
 },
 {
  "spacing": 32,
  "vconcat": [
   {
    "width": 893, "height": 278,
    "title": {"text": "b", "anchor": "start", "frame": "group", "dx": -76, "offset": -49, "baseline": "middle", "font": "Liberation Sans", "fontSize": 25, "fontWeight": "bold", "color": "black"},
    "layer": [
     {"data": {"values": [{}]}, "mark": {"type": "rect", "color": "#d9eac5"}, "encoding": {"x": {"datum": -2.646}, "x2": {"datum": 0}}},
     {"data": {"values": [{}]}, "mark": {"type": "rect", "color": "#fbdee4"}, "encoding": {"x": {"datum": 0}, "x2": {"datum": 1.74}}},
     {"data": {"name": "grid_ticks"}, "mark": {"type": "rule", "color": "#9a9a9a", "strokeWidth": 2}, "encoding": {"x": {"field": "v", "type": "quantitative"}}},
     {"data": {"name": "stages"}, "mark": {"type": "bar", "height": 27},
      "encoding": {
       "x": {"field": "lo", "type": "quantitative", "scale": {"domain": [-2.646, 1.74], "range": [197, 893], "nice": false, "zero": false},
             "axis": {"orient": "top", "values": [-2.5, -2, -1.5, -1, -0.5, 0, 0.5, 1, 1.5], "tickCount": 30, "labelExpr": "datum.value === 0 ? '0' : replace(format(datum.value, '.1f'), '\u2212', '-')", "labelPadding": 8, "title": "Effect on ΔParenchymal Resistance During Sleep Stages", "titleX": 556.5, "titlePadding": 17}},
       "x2": {"field": "hi"},
       "y": {"field": "key", "type": "nominal", "scale": {"domain": ["NREM Sleep|ΔDelta", "NREM Sleep|ΔBeta", "gap", "REM Sleep|ΔDelta", "REM Sleep|ΔTheta", "REM Sleep|ΔBeta"], "paddingInner": 0, "paddingOuter": 0.2706, "align": 0.9},
             "axis": {"title": null, "offset": -197, "ticks": false, "tickSize": 0, "domain": false, "labelAngle": 0, "labelAlign": "right", "labelBaseline": "middle", "labelPadding": 13, "labelFont": "Liberation Sans", "labelFontSize": 23, "labelColor": "black", "labelExpr": "datum.value === 'gap' ? '' : split(datum.value, '|')[1]"}},
       "color": {"field": "direction", "type": "nominal", "scale": {"domain": ["decrease", "increase"], "range": ["#9ed28a", "#f48aa1"]}, "legend": null}
      }},
     {"data": {"name": "stages"}, "mark": {"type": "tick", "thickness": 4, "size": 27, "opacity": 1},
      "encoding": {
       "x": {"field": "est", "type": "quantitative"},
       "y": {"field": "key", "type": "nominal"},
       "color": {"field": "direction", "type": "nominal", "scale": {"domain": ["decrease", "increase"], "range": ["#00a651", "#ed1c24"]}, "legend": null}
      }},
     {"data": {"values": [{}]}, "mark": {"type": "text", "align": "right", "baseline": "middle", "dy": 21.25, "font": "Liberation Sans", "fontSize": 23, "color": "black"},
      "encoding": {"x": {"datum": -3.333}, "y": {"datum": "NREM Sleep|ΔDelta", "type": "nominal"}, "text": {"value": "NREM Sleep"}}},
     {"data": {"values": [{}]}, "mark": {"type": "text", "align": "right", "baseline": "middle", "font": "Liberation Sans", "fontSize": 23, "color": "black"},
      "encoding": {"x": {"datum": -3.333}, "y": {"datum": "REM Sleep|ΔTheta", "type": "nominal"}, "text": {"value": "REM Sleep"}}},
     {"data": {"values": [{}]}, "mark": {"type": "rule", "color": "black", "strokeWidth": 2, "yOffset": -13, "y2Offset": 14.5},
      "encoding": {"x": {"datum": -3.251}, "y": {"datum": "NREM Sleep|ΔDelta", "type": "nominal"}, "y2": {"datum": "NREM Sleep|ΔBeta"}}},
     {"data": {"values": [{}]}, "mark": {"type": "rule", "color": "black", "strokeWidth": 2, "yOffset": -7.5, "y2Offset": 3.5},
      "encoding": {"x": {"datum": -3.251}, "y": {"datum": "REM Sleep|ΔDelta", "type": "nominal"}, "y2": {"datum": "REM Sleep|ΔBeta"}}}
    ],
    "resolve": {"scale": {"color": "independent"}}
   },
   {
    "width": 893, "height": 150,
    "title": {"text": "c", "anchor": "start", "frame": "group", "dx": -82, "offset": -43, "baseline": "middle", "font": "Liberation Sans", "fontSize": 25, "fontWeight": "bold", "color": "black"},
    "layer": [
     {"data": {"values": [{}]}, "mark": {"type": "rect", "color": "#d9eac5"}, "encoding": {"x": {"datum": -2.646}, "x2": {"datum": 0}}},
     {"data": {"values": [{}]}, "mark": {"type": "rect", "color": "#fbdee4"}, "encoding": {"x": {"datum": 0}, "x2": {"datum": 1.74}}},
     {"data": {"name": "grid_ticks"}, "mark": {"type": "rule", "color": "#9a9a9a", "strokeWidth": 2}, "encoding": {"x": {"field": "v", "type": "quantitative"}}},
     {"data": {"name": "transitions"}, "mark": {"type": "bar", "height": 27},
      "encoding": {
       "x": {"field": "lo", "type": "quantitative", "scale": {"domain": [-2.646, 1.74], "range": [197, 893], "nice": false, "zero": false},
             "axis": {"orient": "top", "values": [-2.5, -2, -1.5, -1, -0.5, 0, 0.5, 1, 1.5], "tickCount": 30, "labelExpr": "datum.value === 0 ? '0' : replace(format(datum.value, '.1f'), '\u2212', '-')", "labelPadding": 8, "title": "Effect on ΔParenchymal Resistance During Sleep Tansitions", "titleX": 540.5, "titlePadding": 13}},
       "x2": {"field": "hi"},
       "y": {"field": "key", "type": "nominal", "scale": {"domain": ["Sleep → Wake|ΔBeta", "NREM → REM|ΔBeta", "REM → NREM|ΔDelta"], "paddingInner": 0, "paddingOuter": 0.375, "align": 0.533},
             "axis": {"title": null, "offset": -197, "ticks": false, "tickSize": 0, "domain": false, "labelAngle": 0, "labelAlign": "right", "labelBaseline": "middle", "labelPadding": 13, "labelFont": "Liberation Sans", "labelFontSize": 23, "labelColor": "black", "labelExpr": "split(datum.value, '|')[1]"}},
       "color": {"field": "direction", "type": "nominal", "scale": {"domain": ["decrease", "increase"], "range": ["#9ed28a", "#f48aa1"]}, "legend": null}
      }},
     {"data": {"name": "transitions"}, "mark": {"type": "tick", "thickness": 4, "size": 27, "opacity": 1},
      "encoding": {
       "x": {"field": "est", "type": "quantitative"},
       "y": {"field": "key", "type": "nominal"},
       "color": {"field": "direction", "type": "nominal", "scale": {"domain": ["decrease", "increase"], "range": ["#00a651", "#ed1c24"]}, "legend": null}
      }},
     {"data": {"name": "transitions"}, "mark": {"type": "text", "align": "right", "baseline": "middle", "font": "Liberation Sans", "fontSize": 23, "color": "black"},
      "encoding": {"x": {"datum": -3.34}, "y": {"field": "key", "type": "nominal"}, "text": {"field": "transition"}}}
    ],
    "resolve": {"scale": {"color": "independent"}}
   }
  ]
 }
]
}
